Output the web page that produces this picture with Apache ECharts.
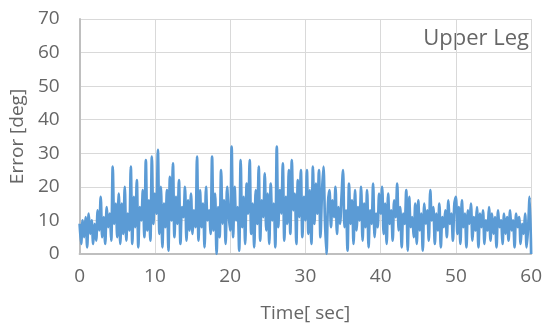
<!DOCTYPE html>
<html>
<head>
<meta charset="utf-8">
<script src="https://cdn.jsdelivr.net/npm/echarts@6/dist/echarts.min.js"></script>
<style>
  html, body { margin: 0; padding: 0; background: #fff; }
  #chart { width: 545px; height: 328px; }
</style>
</head>
<body>
<div id="chart"></div>
<script>
// 采样间隔 (秒)
const sampleStep = 0.2
// 误差数据 (deg)，每行 5 秒
const errorValues = [
  9, 3, 10, 5, 11, 2, 12, 6, 10, 3, 9, 4, 13, 7, 17, 5, 11, 3, 14, 8, 12, 4, 26, 9, 15,
  5, 18, 3, 15, 6, 20, 4, 12, 7, 26, 3, 17, 8, 22, 2, 14, 10, 19, 5, 28, 7, 16, 4, 29, 9,
  18, 12, 31, 6, 20, 2, 15, 8, 19, 1, 23, 10, 27, 5, 17, 9, 22, 3, 14, 11, 20, 4, 16, 7, 18,
  6, 13, 8, 29, 4, 19, 8, 15, 2, 20, 10, 13, 6, 29, 7, 18, 0, 14, 5, 25, 9, 16, 3, 20, 12,
  7, 32, 5, 20, 10, 14, 1, 28, 8, 17, 3, 21, 12, 28, 6, 15, 2, 19, 9, 26, 4, 16, 11, 24, 7,
  18, 3, 21, 10, 15, 2, 32, 8, 19, 12, 27, 4, 17, 9, 25, 6, 28, 13, 18, 3, 22, 11, 25, 5, 17,
  10, 25, 6, 19, 3, 26, 9, 21, 12, 25, 5, 18, 26, 10, 0, 15, 19, 8, 16, 11, 20, 6, 14, 9, 17,
  25, 8, 13, 1, 21, 9, 16, 3, 19, 7, 14, 10, 20, 4, 15, 8, 19, 2, 13, 9, 21, 5, 12, 8, 18,
  12, 20, 6, 15, 3, 18, 9, 13, 4, 16, 11, 21, 7, 14, 2, 12, 9, 19, 1, 17, 8, 11, 5, 15, 3,
  16, 7, 12, 1, 15, 9, 13, 4, 19, 10, 14, 3, 12, 7, 15, 2, 11, 8, 13, 5, 16, 9, 12, 4, 15,
  17, 6, 14, 3, 16, 8, 12, 2, 13, 9, 15, 4, 11, 7, 14, 2, 12, 8, 13, 3, 10, 7, 14, 4, 12,
  6, 11, 2, 13, 8, 10, 3, 12, 6, 11, 4, 13, 7, 10, 2, 12, 8, 11, 3, 9, 6, 12, 2, 8, 17, 0
]
// 坐标轴刻度
const xTicks = [0, 10, 20, 30, 40, 50, 60]
const yTicks = [0, 10, 20, 30, 40, 50, 60, 70]

const seriesData = errorValues.map((v, i) => [+(i * sampleStep).toFixed(1), v])

const labelStyle = {
  color: '#666',
  fontSize: 19,
  fontFamily: 'Open Sans'
}

const chart = echarts.init(document.getElementById('chart'))
chart.setOption({
  animation: false,
  grid: { left: 78, right: 13, top: 19, bottom: 69 },
  xAxis: {
    type: 'value',
    min: xTicks[0],
    max: xTicks[xTicks.length - 1],
    interval: 10,
    name: 'Time[ sec]',
    nameLocation: 'middle',
    nameGap: 50,
    nameTextStyle: labelStyle,
    axisLine: { lineStyle: { color: '#bfbfbf', width: 2 } },
    axisTick: { show: false },
    axisLabel: Object.assign({ margin: 13 }, labelStyle),
    splitLine: { lineStyle: { color: '#d9d9d9', width: 1 } }
  },
  yAxis: {
    type: 'value',
    min: yTicks[0],
    max: yTicks[yTicks.length - 1],
    interval: 10,
    name: 'Error [deg]',
    nameLocation: 'middle',
    nameGap: 50,
    nameTextStyle: labelStyle,
    axisLine: { show: true, lineStyle: { color: '#bfbfbf', width: 2 } },
    axisTick: { show: false },
    axisLabel: Object.assign({ margin: 20 }, labelStyle),
    splitLine: { lineStyle: { color: '#d9d9d9', width: 1 } }
  },
  graphic: [{
    type: 'text',
    right: 16,
    top: 28,
    style: {
      text: 'Upper Leg',
      fill: '#666',
      fontSize: 22,
      fontFamily: 'Open Sans'
    }
  }],
  series: [{
    type: 'line',
    data: seriesData,
    showSymbol: false,
    smooth: 0.3,
    lineStyle: { color: '#5b9bd5', width: 2.7, join: 'round' }
  }]
})
</script>
</body>
</html>
